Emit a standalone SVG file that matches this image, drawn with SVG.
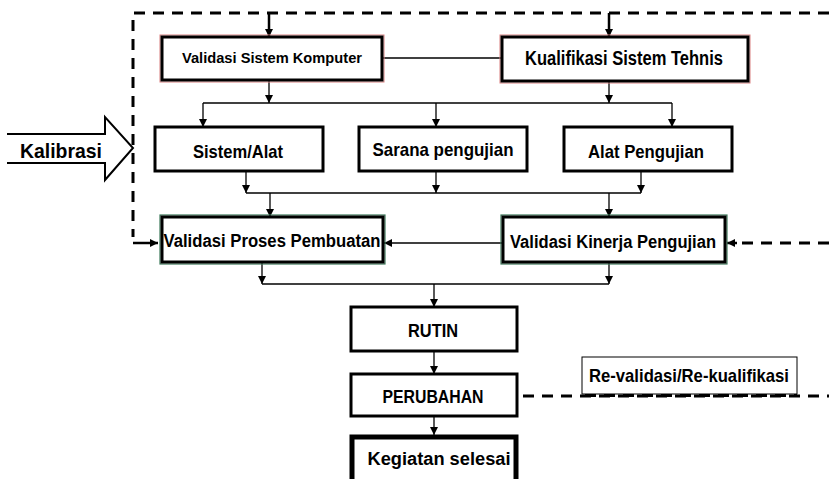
<svg xmlns="http://www.w3.org/2000/svg" width="829" height="479" viewBox="0 0 829 479">
<style>
.box{fill:#fff;stroke:#000;stroke-width:3}
.red{fill:none;stroke:#d98080;stroke-width:1}
.grn{fill:none;stroke:#3c7a5a;stroke-width:1.2}
.t{font-family:"Liberation Sans",Arial,sans-serif;font-weight:bold;fill:#000;text-anchor:middle;font-size:19px}
.s15{font-size:15px}
.s18{font-size:18px}
.s20{font-size:20px}
.s21{font-size:21px}
.ln{fill:none;stroke:#000;stroke-width:1.3}
.dash{fill:none;stroke:#000;stroke-width:3;stroke-dasharray:11,8}
</style>
<defs>
<marker id="ah" markerUnits="userSpaceOnUse" markerWidth="8" markerHeight="8" refX="8" refY="4" orient="auto">
<path d="M0,0 L8,4 L0,8 z" fill="#000"/>
</marker>
</defs>
<g id="connectors">
<path class="ln" d="M382,58 H502"/>
<path class="ln" d="M269,80 V103" marker-end="url(#ah)"/>
<path class="ln" d="M609,81 V103" marker-end="url(#ah)"/>
<path class="ln" d="M203,103 H672"/>
<path class="ln" d="M203,103 V127" marker-end="url(#ah)"/>
<path class="ln" d="M436,103 V127" marker-end="url(#ah)"/>
<path class="ln" d="M672,103 V127" marker-end="url(#ah)"/>
<path class="ln" d="M246,171 V193" marker-end="url(#ah)"/>
<path class="ln" d="M436,171 V193" marker-end="url(#ah)"/>
<path class="ln" d="M641,171 V193" marker-end="url(#ah)"/>
<path class="ln" d="M246,193 H641"/>
<path class="ln" d="M270,193 V217" marker-end="url(#ah)"/>
<path class="ln" d="M609,193 V217" marker-end="url(#ah)"/>
<path class="ln" d="M503,243 H384" marker-end="url(#ah)"/>
<path class="ln" d="M262,262 V284" marker-end="url(#ah)"/>
<path class="ln" d="M609,262 V284" marker-end="url(#ah)"/>
<path class="ln" d="M262,284 H609"/>
<path class="ln" d="M434,284 V307" marker-end="url(#ah)"/>
<path class="ln" d="M434,351 V374" marker-end="url(#ah)"/>
<path class="ln" d="M434,416 V435" marker-end="url(#ah)"/>
<path class="dash" d="M829,13 H133 V237"/>
<path class="ln" style="stroke-width:2.5" d="M133,243 H158" marker-end="url(#ah)"/>
<path class="ln" style="stroke-width:2.5" d="M269,13 V37" marker-end="url(#ah)"/>
<path class="ln" style="stroke-width:2.5" d="M609,13 V37" marker-end="url(#ah)"/>
<path class="dash" d="M829,243 H736"/>
<path class="ln" style="stroke-width:2.5" d="M737,243 H727" marker-end="url(#ah)"/>
<path class="dash" d="M523,396 H829"/>
</g>
<g id="kalibrasi">
<path d="M7,134 H105 V117 L133,148 L105,180 V163 H7" fill="#fff" stroke="#000" stroke-width="2"/>
<text class="t s21" x="61" y="158" textLength="82" lengthAdjust="spacingAndGlyphs">Kalibrasi</text>
</g>
<g id="vsk">
<rect class="red" x="160" y="35" width="224" height="47"/>
<rect class="box" x="162" y="37" width="220" height="43"/>
<text class="t s15" x="272" y="63" textLength="180" lengthAdjust="spacingAndGlyphs">Validasi Sistem Komputer</text>
</g>
<g id="kst">
<rect class="red" x="500" y="35" width="250" height="48"/>
<rect class="box" x="502" y="37" width="246" height="44"/>
<text class="t s20" x="624" y="65" textLength="198" lengthAdjust="spacingAndGlyphs">Kualifikasi Sistem Tehnis</text>
</g>
<g id="sistem">
<rect class="box" x="155" y="127" width="168" height="44"/>
<text class="t" x="238" y="158" textLength="90" lengthAdjust="spacingAndGlyphs">Sistem/Alat</text>
</g>
<g id="sarana">
<rect class="box" x="359" y="127" width="168" height="44"/>
<text class="t" x="443" y="156" textLength="141" lengthAdjust="spacingAndGlyphs">Sarana pengujian</text>
</g>
<g id="alat">
<rect class="box" x="564" y="127" width="168" height="44"/>
<text class="t" x="646" y="158" textLength="116" lengthAdjust="spacingAndGlyphs">Alat Pengujian</text>
</g>
<g id="vpp">
<rect class="grn" x="160" y="215" width="225" height="49"/>
<rect class="box" x="162" y="217" width="221" height="45"/>
<text class="t s18" x="272" y="247" textLength="217" lengthAdjust="spacingAndGlyphs">Validasi Proses Pembuatan</text>
</g>
<g id="vkp">
<rect class="grn" x="501" y="215" width="226" height="49"/>
<rect class="box" x="503" y="217" width="222" height="45"/>
<text class="t s18" x="613" y="248" textLength="206" lengthAdjust="spacingAndGlyphs">Validasi Kinerja Pengujian</text>
</g>
<g id="rutin">
<rect class="box" x="351" y="307" width="166" height="44"/>
<text class="t" x="433" y="337" textLength="50" lengthAdjust="spacingAndGlyphs">RUTIN</text>
</g>
<g id="perubahan">
<rect class="box" x="351" y="374" width="166" height="42"/>
<text class="t" x="433" y="403" textLength="101" lengthAdjust="spacingAndGlyphs">PERUBAHAN</text>
</g>
<g id="selesai">
<rect class="box" style="stroke-width:5" x="352" y="437" width="164" height="50"/>
<text class="t s18" x="439" y="465" textLength="143" lengthAdjust="spacingAndGlyphs">Kegiatan selesai</text>
</g>
<g id="revalidasi">
<rect x="582" y="357" width="215" height="37" fill="#fff" stroke="#000" stroke-width="1"/>
<text class="t" x="689" y="382" textLength="200" lengthAdjust="spacingAndGlyphs">Re-validasi/Re-kualifikasi</text>
<path class="dash" d="M582,395.5 H797" style="stroke-dashoffset:-3"/>
</g>
</svg>
